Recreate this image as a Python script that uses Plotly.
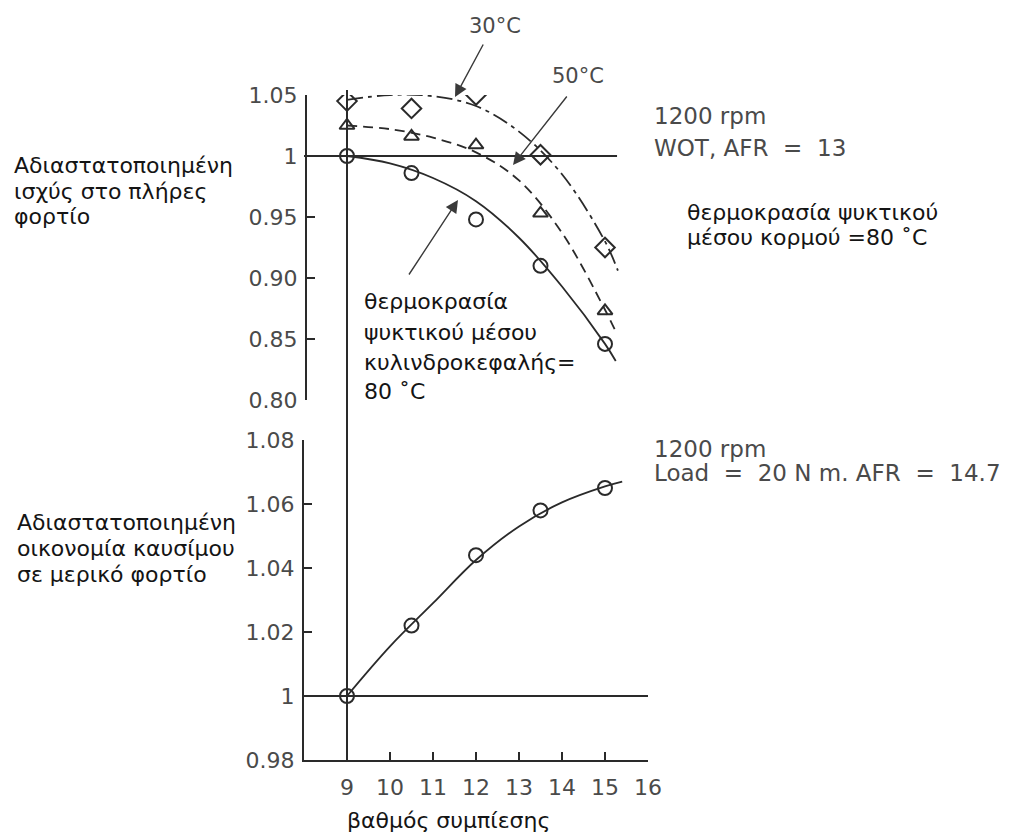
import plotly.graph_objects as go

# ---------------- data ----------------
ratio_pts = [9, 10.5, 12, 13.5, 15]                 # compression ratio of test points
power_80 = [1.0, 0.986, 0.948, 0.910, 0.846]        # circles (head coolant 80 °C)
power_50 = [1.025, 1.016, 1.009, 0.953, 0.873]      # triangles (50 °C)
power_30 = [1.045, 1.039, 1.050, 1.001, 0.925]      # diamonds (30 °C)
fuel_econ = [1.0, 1.022, 1.044, 1.058, 1.065]       # part-load fuel economy

# faired curves
curve80_x = [9, 10, 11, 12, 13, 14, 15, 15.25]
curve80_y = [1.0, 0.994, 0.982, 0.963, 0.933, 0.893, 0.846, 0.832]
curve50_x = [9, 10, 11, 12, 13, 14, 15, 15.25]
curve50_y = [1.025, 1.022, 1.015, 1.003, 0.980, 0.937, 0.874, 0.856]
curve30_x = [9, 10, 11, 12, 13, 14, 15, 15.3]
curve30_y = [1.046, 1.050, 1.049, 1.041, 1.020, 0.985, 0.930, 0.906]
curvefe_x = [9, 10, 11, 12, 13, 14, 15, 15.4]
curvefe_y = [1.0, 1.0155, 1.029, 1.0425, 1.053, 1.0605, 1.0655, 1.067]

x_ticks = [9, 10, 11, 12, 13, 14, 15, 16]
top_ticks = [0.80, 0.85, 0.90, 0.95, 1.0, 1.05]
top_ticktext = ["0.80", "0.85", "0.90", "0.95", "1", "1.05"]
bot_ticks = [0.98, 1.0, 1.02, 1.04, 1.06, 1.08]
bot_ticktext = ["0.98", "1", "1.02", "1.04", "1.06", "1.08"]

# ---------------- layout geometry ----------------
W, H = 1010, 836
L, R, T, B = 304, 362, 95, 76
PW, PH = W - L - R, H - T - B


def px(x):
    return (x - L) / PW


def py(y):
    return (H - B - y) / PH


INK = "#2a2a2a"
GREY = "#4a4a4a"
FONT = "DejaVu Sans"
FS = "\u2007"   # figure space: the original uses wide gaps around '='

fig = go.Figure()

# curves
fig.add_trace(go.Scatter(x=curve30_x, y=curve30_y, yaxis="y2", mode="lines",
                         line=dict(color=INK, width=1.8, shape="spline", dash="16px,5px,4px,5px")))
fig.add_trace(go.Scatter(x=curve50_x, y=curve50_y, yaxis="y2", mode="lines",
                         line=dict(color=INK, width=1.8, shape="spline", dash="10px,6px")))
fig.add_trace(go.Scatter(x=curve80_x, y=curve80_y, yaxis="y2", mode="lines",
                         line=dict(color=INK, width=1.8, shape="spline")))
fig.add_trace(go.Scatter(x=curvefe_x, y=curvefe_y, yaxis="y", mode="lines",
                         line=dict(color=INK, width=1.8, shape="spline")))

# markers
mk = dict(color=INK, line=dict(color=INK, width=2))
fig.add_trace(go.Scatter(x=ratio_pts, y=power_30, yaxis="y2", mode="markers",
                         marker=dict(symbol="diamond-open", size=15, **mk)))
fig.add_trace(go.Scatter(x=ratio_pts, y=power_50, yaxis="y2", mode="markers",
                         marker=dict(symbol="triangle-up-open", size=13, **mk)))
fig.add_trace(go.Scatter(x=ratio_pts, y=power_80, yaxis="y2", mode="markers",
                         marker=dict(symbol="circle-open", size=14, **mk)))
fig.add_trace(go.Scatter(x=ratio_pts, y=fuel_econ, yaxis="y", mode="markers",
                         marker=dict(symbol="circle-open", size=14, **mk)))

# reference lines
shapes = [
    dict(type="line", xref="x", yref="paper", x0=9, x1=9, y0=0, y1=py(90),
         line=dict(color=INK, width=2)),
    dict(type="line", xref="x", yref="y2", x0=8, x1=15.28, y0=1, y1=1,
         line=dict(color=INK, width=2)),
    dict(type="line", xref="x", yref="y", x0=8, x1=16, y0=1, y1=1,
         line=dict(color=INK, width=2)),
]

ann = []


def text(s, x, y, anchor="left", size=22, color="#141414", yanchor="middle"):
    ann.append(dict(text=s, x=px(x), y=py(y), xref="paper", yref="paper",
                    xanchor=anchor, yanchor=yanchor, showarrow=False,
                    font=dict(family=FONT, size=size, color=color)))


def arrow(tipx, tipy, tailx, taily):
    ann.append(dict(text="", x=px(tipx), y=py(tipy), xref="paper", yref="paper",
                    ax=tailx - tipx, ay=taily - tipy, showarrow=True,
                    arrowhead=2, arrowsize=1.8, arrowwidth=1.4, arrowcolor="#3a3a3a"))


# left axis titles
text("Αδιαστατοποιημένη", 12, 165)
text("ισχύς στο πλήρες", 12, 191)
text("φορτίο", 12, 217)
text("Αδιαστατοποιημένη", 15, 522)
text("οικονομία καυσίμου", 15, 548)
text("σε μερικό φορτίο", 15, 574)

# middle label
text("θερμοκρασία", 362, 301)
text("ψυκτικού μέσου", 362, 332)
text("κυλινδροκεφαλής=", 362, 362)
text("80 ˚C", 362, 391)

# right labels
text("1200 rpm", 652, 116, size=23, color=GREY)
text("WOT, AFR" + FS + "=" + FS + "13", 652, 148, size=23, color=GREY)
text("θερμοκρασία ψυκτικού", 685, 212)
text("μέσου κορμού =80 ˚C", 685, 238)
text("1200 rpm", 652, 449, size=23, color=GREY)
text("Load" + FS + "=" + FS + "20 N m. AFR" + FS + "=" + FS + "14.7", 652, 473, size=23, color=GREY)

# temperature labels
text("30°C", 495, 26, anchor="center", size=21, color=GREY)
text("50°C", 578, 76, anchor="center", size=21, color=GREY)

# x axis title
text("βαθμός συμπίεσης", 448, 835, anchor="center", yanchor="bottom")

# arrows
arrow(455, 97, 484, 43)
arrow(513, 165, 568, 95)
arrow(458, 200, 408, 276)

axis_common = dict(showgrid=False, zeroline=False, showline=True, linecolor=INK,
                   linewidth=2, ticks="inside", ticklen=8, tickwidth=2, tickcolor=INK,
                   tickfont=dict(family=FONT, size=22, color=GREY))

fig.update_layout(
    width=W, height=H, template="none",
    paper_bgcolor="white", plot_bgcolor="white",
    margin=dict(l=L, r=R, t=T, b=B, pad=0),
    showlegend=False,
    xaxis=dict(range=[8, 16], tickmode="array", tickvals=x_ticks, anchor="y",
               ticklabelstandoff=7, **axis_common),
    yaxis=dict(domain=[0, py(440)], range=[0.98, 1.08], tickmode="array",
               tickvals=bot_ticks, ticktext=bot_ticktext, anchor="x",
               ticklabelstandoff=3, **axis_common),
    yaxis2=dict(domain=[py(400), 1], range=[0.80, 1.05], tickmode="array",
                tickvals=top_ticks, ticktext=top_ticktext, anchor="free",
                position=px(306), ticklabelstandoff=3, **axis_common),
    shapes=shapes,
    annotations=ann,
)

fig.write_html("out.html")
